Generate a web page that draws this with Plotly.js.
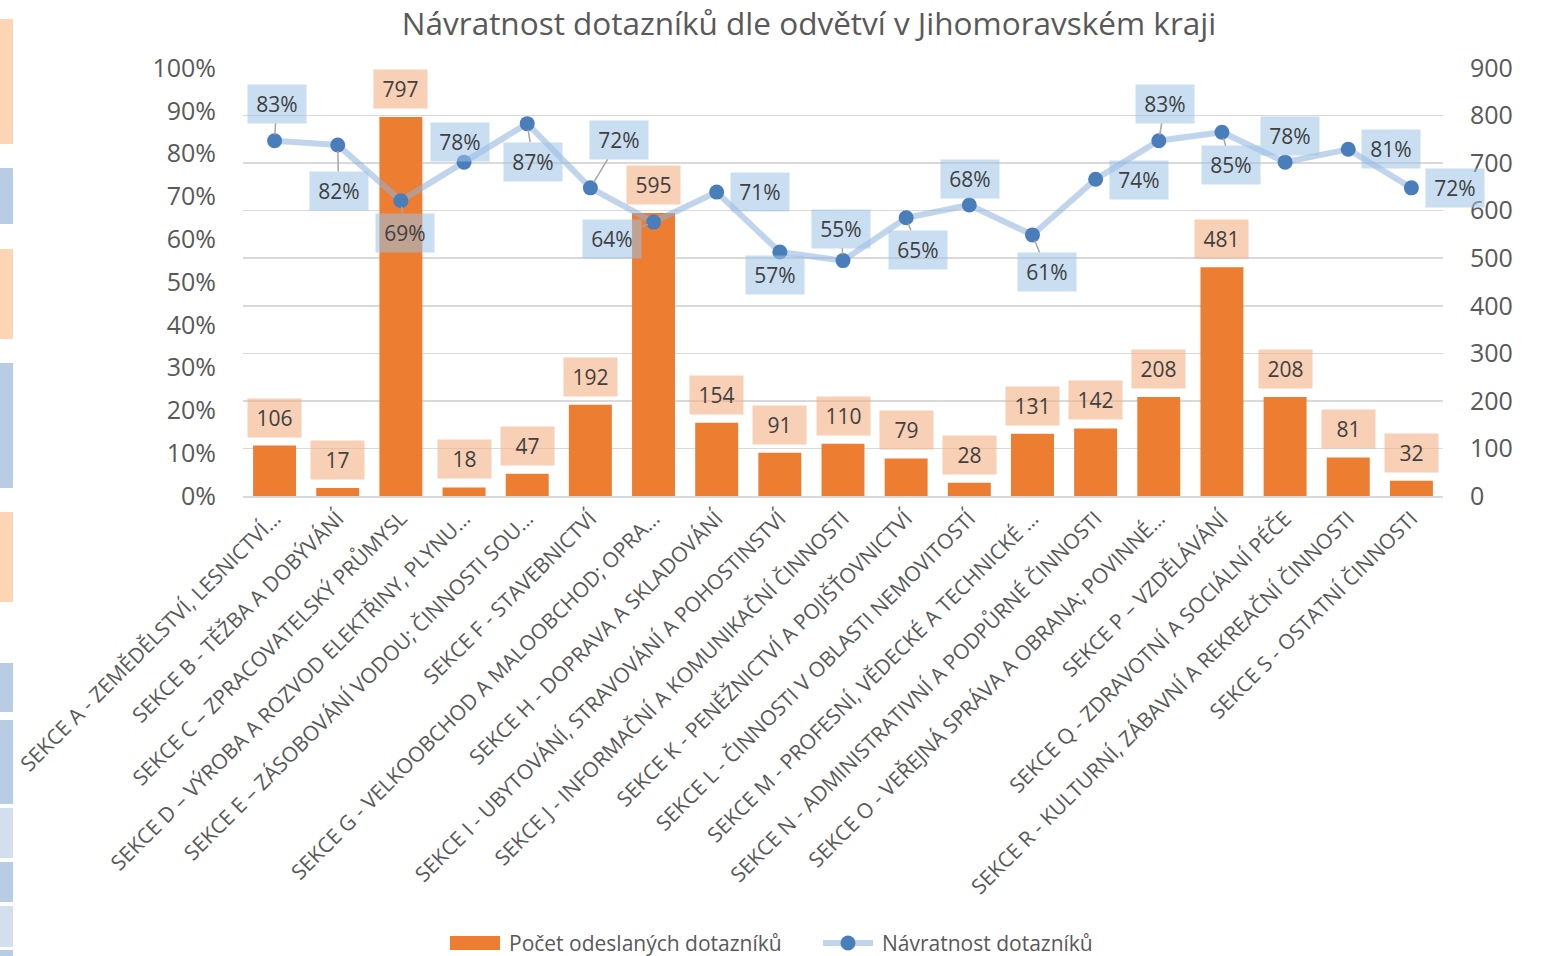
<!DOCTYPE html>
<html>
<head>
<meta charset="utf-8">
<script src="https://cdn.plot.ly/plotly-3.0.1.min.js"></script>
<style>html,body{margin:0;padding:0;background:#fff;}#chart{width:1542px;height:956px;}</style>
</head>
<body>
<div id="chart"></div>
<script>
const categories = [
  "SEKCE A - ZEMĚDĚLSTVÍ, LESNICTVÍ…",
  "SEKCE B - TĚŽBA A DOBÝVÁNÍ",
  "SEKCE C – ZPRACOVATELSKÝ PRŮMYSL",
  "SEKCE D – VÝROBA A ROZVOD ELEKTŘINY, PLYNU…",
  "SEKCE E – ZÁSOBOVÁNÍ VODOU; ČINNOSTI SOU…",
  "SEKCE F - STAVEBNICTVÍ",
  "SEKCE G - VELKOOBCHOD A MALOOBCHOD; OPRA…",
  "SEKCE H - DOPRAVA A SKLADOVÁNÍ",
  "SEKCE I - UBYTOVÁNÍ, STRAVOVÁNÍ A POHOSTINSTVÍ",
  "SEKCE J - INFORMAČNÍ A KOMUNIKAČNÍ ČINNOSTI",
  "SEKCE K - PENĚŽNICTVÍ A POJIŠŤOVNICTVÍ",
  "SEKCE L - ČINNOSTI V OBLASTI NEMOVITOSTÍ",
  "SEKCE M - PROFESNÍ, VĚDECKÉ A TECHNICKÉ …",
  "SEKCE N - ADMINISTRATIVNÍ A PODPŮRNÉ ČINNOSTI",
  "SEKCE O - VEŘEJNÁ SPRÁVA A OBRANA; POVINNÉ…",
  "SEKCE P – VZDĚLÁVÁNÍ",
  "SEKCE Q - ZDRAVOTNÍ A SOCIÁLNÍ PÉČE",
  "SEKCE R - KULTURNÍ, ZÁBAVNÍ A REKREAČNÍ ČINNOSTI",
  "SEKCE S - OSTATNÍ ČINNOSTI"
];
const sentCounts = [106, 17, 797, 18, 47, 192, 595, 154, 91, 110, 79, 28, 131, 142, 208, 481, 208, 81, 32];
const returnRates = [0.83, 0.82, 0.69, 0.78, 0.87, 0.72, 0.64, 0.71, 0.57, 0.55, 0.65, 0.68, 0.61, 0.74, 0.83, 0.85, 0.78, 0.81, 0.72];
const seriesNames = ["Počet odeslaných dotazníků", "Návratnost dotazníků"];
const chartTitle = "Návratnost dotazníků dle odvětví v Jihomoravském kraji";

// label placement (pixel offsets of label box centre from the point, leader line flag)
const rateLabelPlacement = [
  [2, -37, true], [1, 46, true], [4, 32, true], [-4, -20, false], [6, 38, true],
  [29, -48, true], [-42, 17, true], [43, 0, false], [-5, 23, false], [-2, -32, true],
  [12, 32, true], [1, -26, false], [15, 37, true], [43, 1, false], [6, -37, true],
  [9, 33, true], [5, -26, false], [43, 0, false], [44, 0, false]
];

const FONT = "Open Sans, Noto Sans, sans-serif";
const GREY = "#595959";
const BAR_COLOR = "#ED7D31";
const LINE_COLOR = "rgba(140,178,220,0.55)";
const MARKER_COLOR = "#4A7EBB";

const bars = {
  type: "bar", name: seriesNames[0], x: categories, y: sentCounts, yaxis: "y",
  marker: {color: BAR_COLOR}, showlegend: false
};
const line = {
  type: "scatter", mode: "lines+markers", name: seriesNames[1], x: categories, y: returnRates, yaxis: "y2",
  line: {color: LINE_COLOR, width: 6},
  marker: {color: MARKER_COLOR, size: 15}, showlegend: false
};

const L = 243, R = 1443, T = 68, B = 496;
const px2x = px => (px - L) / (R - L);
const px2y = py => (B - py) / (B - T);

const annotations = [];
categories.forEach((c, i) => {
  annotations.push({
    x: c, y: sentCounts[i], xref: "x", yref: "y", showarrow: false,
    text: String(sentCounts[i]), yanchor: "bottom", yshift: 8,
    width: 53, height: 38, borderpad: 0,
    bgcolor: "rgba(244,177,131,0.6)",
    font: {family: FONT, size: 21, color: "#404040"}
  });
});
categories.forEach((c, i) => {
  const p = rateLabelPlacement[i];
  annotations.push({
    x: c, y: returnRates[i], xref: "x", yref: "y2", showarrow: true,
    ax: p[0], ay: p[1], axref: "pixel", ayref: "pixel",
    arrowhead: 0, arrowwidth: 1.5, standoff: 6,
    arrowcolor: p[2] ? "#A6A6A6" : "rgba(0,0,0,0)",
    text: Math.round(returnRates[i] * 100) + "%",
    width: 58, height: 38, borderpad: 0,
    bgcolor: "rgba(157,195,230,0.55)",
    font: {family: FONT, size: 21, color: "#404040"}
  });
});

// custom legend (Excel-style wide swatches)
const legendY = 943;
annotations.push({
  xref: "paper", yref: "paper", x: px2x(507), y: px2y(legendY), xanchor: "left", yanchor: "middle",
  showarrow: false, text: seriesNames[0], font: {family: FONT, size: 21, color: GREY}
});
annotations.push({
  xref: "paper", yref: "paper", x: px2x(880), y: px2y(legendY), xanchor: "left", yanchor: "middle",
  showarrow: false, text: seriesNames[1], font: {family: FONT, size: 21, color: GREY}
});

// decorative strips at the left edge of the picture (pixel coordinates)
const stripRects = [
  [19, 144, "#FCD5B5"], [168, 224, "#B8CCE4"], [249, 339, "#FCD5B5"], [363, 488, "#B8CCE4"],
  [512, 602, "#FCD5B5"], [663, 712, "#B8CCE4"], [720, 804, "#B8CCE4"], [808, 858, "#D3DFEE"],
  [862, 902, "#B8CCE4"], [906, 947, "#D3DFEE"], [950, 956, "#B8CCE4"]
];
const shapes = stripRects.map(s => ({
  type: "rect", xref: "paper", yref: "paper",
  x0: px2x(0), x1: px2x(13), y0: px2y(s[1]), y1: px2y(s[0]),
  fillcolor: s[2], line: {width: 0}, layer: "below"
}));
shapes.push({
  type: "rect", xref: "paper", yref: "paper",
  x0: px2x(450), x1: px2x(500), y0: px2y(950), y1: px2y(936),
  fillcolor: BAR_COLOR, line: {width: 0}
});
shapes.push({
  type: "line", xref: "paper", yref: "paper",
  x0: px2x(823), x1: px2x(873), y0: px2y(legendY), y1: px2y(legendY),
  line: {color: LINE_COLOR, width: 6}
});
shapes.push({
  type: "circle", xref: "paper", yref: "paper",
  x0: px2x(848 - 7.5), x1: px2x(848 + 7.5), y0: px2y(legendY + 7.5), y1: px2y(legendY - 7.5),
  fillcolor: MARKER_COLOR, line: {width: 0}
});

const layout = {
  width: 1542, height: 956,
  margin: {l: L, r: 1542 - R, t: T, b: 956 - B, autoexpand: false},
  paper_bgcolor: "#ffffff", plot_bgcolor: "#ffffff",
  font: {family: FONT, color: GREY},
  title: {
    text: chartTitle, font: {family: FONT, size: 31.5, color: GREY},
    x: 809 / 1542, xref: "container", xanchor: "center",
    y: 1 - 24 / 956, yref: "container", yanchor: "middle"
  },
  bargap: 0.32,
  showlegend: false,
  xaxis: {
    type: "category", tickangle: -45, tickfont: {family: FONT, size: 21, color: GREY},
    showline: true, linecolor: "#D9D9D9", linewidth: 2, ticks: "", showgrid: false,
    range: [-0.5, categories.length - 0.5], fixedrange: true, automargin: false
  },
  yaxis: {
    side: "right", range: [0, 900], dtick: 100, tick0: 0,
    showgrid: true, gridcolor: "#D9D9D9", gridwidth: 1.5, zeroline: false,
    tickfont: {family: FONT, size: 25, color: GREY}, ticks: "", ticklabelstandoff: 26,
    fixedrange: true, automargin: false
  },
  yaxis2: {
    overlaying: "y", side: "left", range: [0, 1], dtick: 0.1, tick0: 0, tickformat: ".0%",
    showgrid: false, zeroline: false,
    tickfont: {family: FONT, size: 25, color: GREY}, ticks: "", ticklabelstandoff: 26,
    fixedrange: true, automargin: false
  },
  annotations: annotations,
  shapes: shapes
};

Plotly.newPlot("chart", [bars, line], layout, {displayModeBar: false, staticPlot: true});
</script>
</body>
</html>
